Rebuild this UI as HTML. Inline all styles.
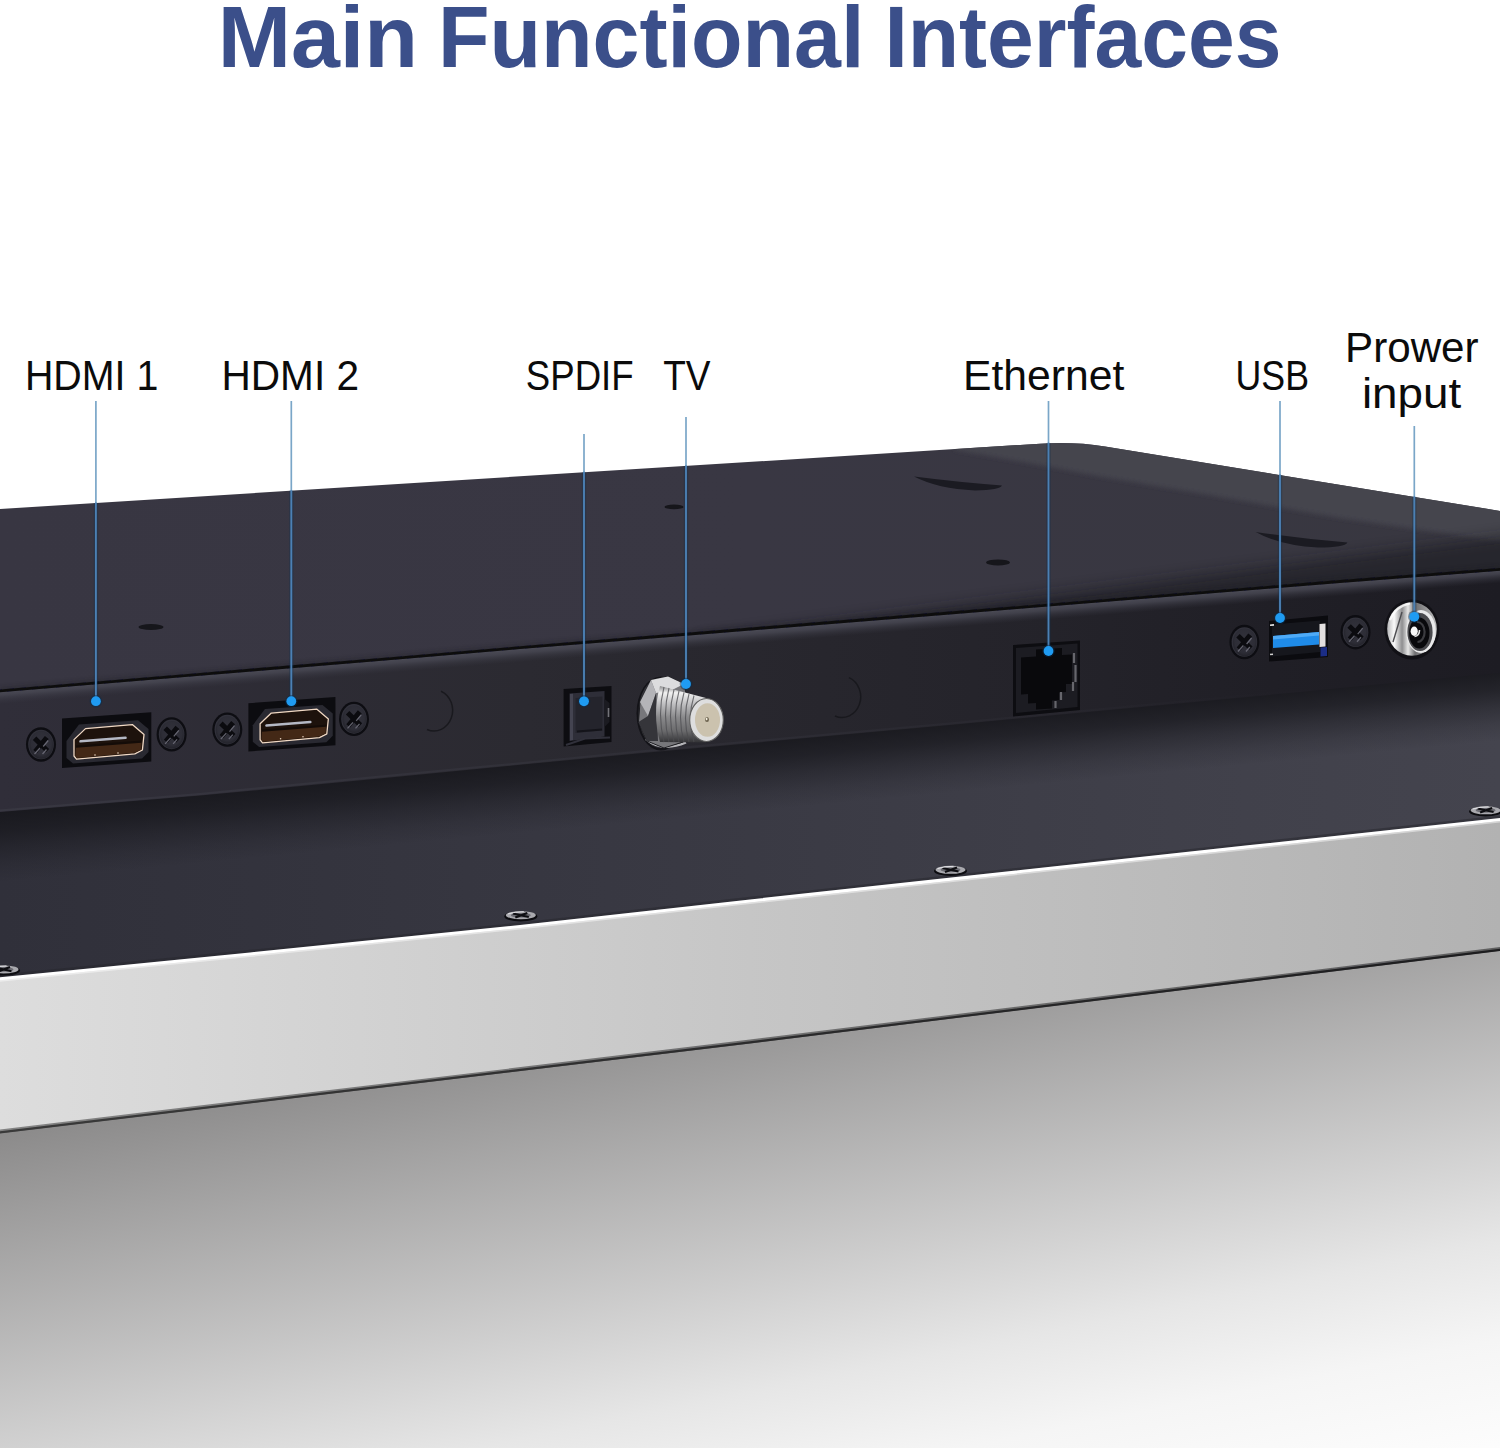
<!DOCTYPE html>
<html lang="en"><head><meta charset="utf-8"><title>Main Functional Interfaces</title>
<style>
html,body{margin:0;padding:0;background:#fff;}
body{width:1500px;height:1448px;overflow:hidden;position:relative;font-family:"Liberation Sans",sans-serif;}
svg{position:absolute;left:0;top:0;display:block;}
text{font-family:"Liberation Sans",sans-serif;}
.lbl{font-size:42.9px;fill:#0b0b0b;}
.ttl{font-size:87.2px;font-weight:bold;fill:#3b4f8a;}
.ln{stroke:#3a8fd6;stroke-width:1.6;fill:none;}
.dot{fill:#1e98ee;}
</style></head><body>
<svg width="1500" height="1448" viewBox="0 0 1500 1448">
<defs>
<linearGradient id="gFloor" gradientUnits="userSpaceOnUse" x1="40" y1="1127.3" x2="162.3" y2="1729.7">
 <stop offset="0" stop-color="#8c8b8b"/><stop offset="0.652" stop-color="#e6e6e6"/><stop offset="0.81" stop-color="#f5f5f5"/><stop offset="1" stop-color="#fdfdfd"/>
</linearGradient>
<linearGradient id="gSilver" gradientUnits="userSpaceOnUse" x1="0" y1="0" x2="1500" y2="0">
 <stop offset="0" stop-color="#dddddd"/><stop offset="0.5" stop-color="#c6c6c6"/><stop offset="1" stop-color="#b2b2b2"/>
</linearGradient>
<linearGradient id="gSilverEdge" gradientUnits="userSpaceOnUse" x1="0" y1="0" x2="1500" y2="0">
 <stop offset="0" stop-color="#3a3a3a"/><stop offset="1" stop-color="#1c1c1e"/>
</linearGradient>
<linearGradient id="gLower" gradientUnits="userSpaceOnUse" x1="0" y1="0" x2="1500" y2="0">
 <stop offset="0" stop-color="#30303a"/><stop offset="0.17" stop-color="#33333d"/><stop offset="0.5" stop-color="#3a3a44"/><stop offset="0.83" stop-color="#41414b"/><stop offset="1" stop-color="#44444e"/>
</linearGradient>
<linearGradient id="gLowerSh" gradientUnits="userSpaceOnUse" x1="750" y1="743" x2="756.400" y2="811">
 <stop offset="0" stop-color="#17171c" stop-opacity="0.9"/><stop offset="0.25" stop-color="#17171c" stop-opacity="0.72"/><stop offset="0.5" stop-color="#17171c" stop-opacity="0.42"/><stop offset="0.75" stop-color="#17171c" stop-opacity="0.17"/><stop offset="1" stop-color="#17171c" stop-opacity="0"/>
</linearGradient>
<linearGradient id="gFace" gradientUnits="userSpaceOnUse" x1="0" y1="0" x2="1500" y2="0">
 <stop offset="0" stop-color="#302e39"/><stop offset="0.35" stop-color="#2b2a31"/><stop offset="0.7" stop-color="#24232a"/><stop offset="0.85" stop-color="#201f26"/><stop offset="1" stop-color="#1d1c23"/>
</linearGradient>
<linearGradient id="gRim" gradientUnits="userSpaceOnUse" x1="0" y1="0" x2="1300" y2="0">
 <stop offset="0" stop-color="#3d3d47" stop-opacity="0.6"/><stop offset="0.6" stop-color="#3a3a44" stop-opacity="0.3"/><stop offset="1" stop-color="#3a3a44" stop-opacity="0"/>
</linearGradient>
<linearGradient id="gHi" gradientUnits="userSpaceOnUse" x1="750" y1="630.5" x2="751.05" y2="643.5">
 <stop offset="0" stop-color="#4c4c57" stop-opacity="0.95"/><stop offset="0.3" stop-color="#484853" stop-opacity="0.8"/><stop offset="0.65" stop-color="#40404b" stop-opacity="0.38"/><stop offset="1" stop-color="#3a3a45" stop-opacity="0"/>
</linearGradient>
<linearGradient id="gTop" gradientUnits="userSpaceOnUse" x1="0" y1="0" x2="1500" y2="0">
 <stop offset="0" stop-color="#383642"/><stop offset="0.5" stop-color="#393743"/><stop offset="1" stop-color="#383740"/>
</linearGradient>
<linearGradient id="gSteel" x1="0" y1="0" x2="0" y2="1">
 <stop offset="0" stop-color="#8c8c8e"/><stop offset="0.12" stop-color="#f2f2f2"/><stop offset="0.3" stop-color="#c4c4c6"/><stop offset="0.55" stop-color="#8a8a8c"/><stop offset="0.8" stop-color="#6a6a6c"/><stop offset="1" stop-color="#333336"/>
</linearGradient>
<linearGradient id="gJack" x1="0" y1="0" x2="1" y2="0">
 <stop offset="0" stop-color="#b8b8ba"/><stop offset="0.14" stop-color="#fafafa"/><stop offset="0.3" stop-color="#8e8e90"/><stop offset="0.42" stop-color="#e6e6e6"/><stop offset="0.56" stop-color="#6e6e70"/><stop offset="1" stop-color="#bcbcbc"/>
</linearGradient>
<radialGradient id="gScrew" cx="0.5" cy="0.45" r="0.6">
 <stop offset="0" stop-color="#33333c"/><stop offset="0.7" stop-color="#2c2c35"/><stop offset="1" stop-color="#1a1a20"/>
</radialGradient>
<filter id="b2" x="-20%" y="-20%" width="140%" height="140%"><feGaussianBlur stdDeviation="0.6"/></filter>
<filter id="b8" x="-10%" y="-100%" width="120%" height="300%"><feGaussianBlur stdDeviation="7"/></filter>
<filter id="b4" x="-10%" y="-100%" width="120%" height="300%"><feGaussianBlur stdDeviation="2.2"/></filter>
<g id="screw">
 <ellipse rx="15" ry="17.200" fill="#0d0d12"/>
 <ellipse rx="12.800" ry="14.800" fill="#42424d" opacity="0.7"/>
 <ellipse cx="0.300" cy="0.400" rx="11.800" ry="13.800" fill="url(#gScrew)" opacity="0.8"/>
 <path d="M-6.400,-6.200 L6.400,6.200 M-5.800,7 L5.800,-7" stroke="#0b0b0f" stroke-width="5"/>
 <path d="M2.200,2 L7.200,-4 M-6.500,9.500 L-1,3.500 M1.500,9.500 L5.500,5" stroke="#6c6c78" stroke-width="1.300" opacity="0.9"/>
</g>
<g id="sscrew">
 <ellipse cx="0" cy="1.2" rx="16.5" ry="5" fill="#0c0c10"/>
 <ellipse rx="15" ry="4" fill="#a9a9ae"/>
 <ellipse rx="10" ry="2.4" fill="#6c6c73"/>
 <path d="M-8,-1.800 L8,1.800 M-5.500,2.300 L6.500,-2.300" stroke="#0e0e12" stroke-width="2.100"/>
 <path d="M-13,-1.200 Q-6,-3.600 3,-3.500" stroke="#e2e2e6" stroke-width="1" fill="none"/>
</g>
<g id="hdmi">
 <polygon points="62,718.5 151.3,712.2 151.3,761.6 62,768" fill="#0c0c10"/>
 <path d="M66.500,741 L79,724.5 L138,720.3 L148.500,729 L148.500,752 L142,758.5 L73,763.5 L66.500,758 Z" fill="#292931"/>
 <path d="M74,739.6 L85.5,728.6 L132.300,724.600 L144,734.6 L142.400,750 L134.800,753.800 L76.500,759.2 L74,756 Z" fill="#1d120c" stroke="#f1d9c4" stroke-width="1.3" stroke-linejoin="round"/>
 <path d="M76,746.5 L141.5,741.5 L141.2,749.5 L134.500,752.700 L77,758 L75.3,755.600 Z" fill="#432816"/>
 <path d="M76,746.6 L141.500,741.6" stroke="#140c08" stroke-width="2.2"/>
 <path d="M80.500,741.3 L125.500,737.800" stroke="#b4b8c4" stroke-width="2.6" stroke-linecap="round"/>
 <circle cx="95" cy="755" r="0.8" fill="#e8d6c4"/><circle cx="118" cy="753" r="0.8" fill="#e8d6c4"/>
</g>
<clipPath id="cTop"><path d="M0,509 L1040,443.7 Q1074.4,441.5 1105,446.5 L1500,510.9 L1500,569.4 L1340,581.6 L1300,584.8 L950,613.1 L900,617.1 L640,638 L520,647.7 L400,657.9 L200,674.4 L0,690.9 Z"/></clipPath>
</defs>

<polygon points="0,1131.7 750,1041.8 1500,949.2 1500,1448 0,1448" fill="url(#gFloor)"/>
<polygon points="0,978.6 250,953.8 520,926.4 750,900.8 1250,846.5 1500,819.4 1500,950.2 750,1042.8 0,1132.7" fill="url(#gSilver)"/>
<polygon points="0,1129.5 750,1039.6 1500,947 1500,950.8 750,1043.4 0,1133.3" fill="url(#gSilverEdge)" opacity="0.55" filter="url(#b2)"/>
<polygon points="0,1131.2 750,1041.3 1500,948.7 1500,950.9 750,1043.5 0,1133.4" fill="url(#gSilverEdge)"/>
<polygon points="0,811 200,794.6 400,775.4 520,763.8 640,752.2 900,728.5 950,724 1300,691 1340,687.1 1500,671.7 1500,819.4 1250,846.5 750,900.8 520,926.4 250,953.8 0,978.6" fill="url(#gLower)"/>
<polygon points="0,811 200,794.6 400,775.4 520,763.8 640,752.2 900,728.5 950,724 1300,691 1340,687.1 1500,671.7 1500,752.7 1340,768.1 1300,772 950,805 900,809.5 640,833.2 520,844.8 400,856.4 200,875.6 0,892" fill="url(#gLowerSh)"/>
<polygon points="0,974.6 250,949.8 520,922.4 750,896.8 1250,842.5 1500,815.4 1500,818 1250,845.1 750,899.4 520,925 250,952.4 0,977.2" fill="#26262c" opacity="0.5"/>
<polygon points="0,977.2 250,952.4 520,925 750,899.4 1250,845.1 1500,818 1500,821.1 1250,848.2 750,902.5 520,928.1 250,955.5 0,980.3" fill="#ffffff"/>
<polygon points="0,980.3 250,955.5 520,928.1 750,902.5 1250,848.2 1500,821.1 1500,822.6 1250,849.7 750,904 520,929.6 250,957 0,981.8" fill="#ffffff" opacity="0.45"/>
<use href="#sscrew" x="3.5" y="969.4"/>
<use href="#sscrew" x="520.8" y="915.2"/>
<use href="#sscrew" x="950.5" y="869.8"/>
<use href="#sscrew" x="1485.6" y="810.3"/>
<path d="M0,509 L1040,443.7 Q1074.4,441.5 1105,446.5 L1500,510.9 L1500,570.4 L1340,582.6 L1300,585.8 L950,614.1 L900,618.1 L640,639 L520,648.7 L400,658.9 L200,675.4 L0,691.9 Z" fill="url(#gTop)"/>
<g clip-path="url(#cTop)">
<path d="M955,445 L1040,439.7 Q1074.4,441.5 1105,442.5 L1510,508.5 L1510,543 L1340,518 L1180,490 L1100,476.5 Q1030,463 955,450 Z" fill="#45444e" filter="url(#b4)"/>
<polygon points="700,639.2 1530,533.1 1530,583.1 700,649.2" fill="#1d1c22" opacity="0.62" filter="url(#b8)"/>
<polygon points="0,687.4 200,670.9 400,654.4 520,644.2 640,634.5 900,613.6 950,609.6 1300,581.3 1340,578.1 1500,565.9 1500,573.4 1340,585.6 1300,588.8 950,617.1 900,621.1 640,642 520,651.7 400,661.9 200,678.4 0,694.9" fill="#1d1c22" opacity="0.35" filter="url(#b4)"/>
</g>
<path d="M914,476.6 Q960,482.5 1002,485.5 Q1000,490 975,490.400 Q938,489 914,476.6 Z" fill="#1b1b22"/>
<path d="M1255.7,532 Q1300,538.5 1347.400,542.5 Q1345,547.5 1318,547.5 Q1280,545.5 1255.7,532 Z" fill="#1b1b22"/>
<ellipse cx="151" cy="627" rx="12.5" ry="3" fill="#16161b"/>
<ellipse cx="674" cy="506.9" rx="9.5" ry="2.3" fill="#16161b"/>
<ellipse cx="998" cy="562.4" rx="12" ry="3" fill="#16161b"/>
<polygon points="0,690.9 200,674.4 400,657.9 520,647.7 640,638 900,617.1 950,613.1 1300,584.8 1340,581.6 1500,569.4 1500,672.7 1340,688.1 1300,692 950,725 900,729.5 640,753.2 520,764.8 400,776.4 200,795.6 0,812" fill="url(#gFace)"/>
<polygon points="0,691.9 200,675.4 400,658.9 520,648.7 640,639 900,618.1 950,614.1 1300,585.8 1340,582.6 1500,570.4 1500,583.9 1340,596.1 1300,599.3 950,627.6 900,631.6 640,652.5 520,662.2 400,672.4 200,688.9 0,705.4" fill="url(#gHi)"/>
<polygon points="0,689.4 200,672.9 400,656.4 520,646.2 640,636.5 900,615.6 950,611.6 1300,583.3 1340,580.1 1500,567.9 1500,570.8 1340,583 1300,586.2 950,614.5 900,618.5 640,639.4 520,649.1 400,659.3 200,675.8 0,692.3" fill="#0b0b10" filter="url(#b2)"/>
<polygon points="0,809.4 200,793 480,766.1 640,750.6 950,722.4 1300,689.4 1300,691.4 950,724.4 640,752.6 480,768.1 200,795 0,811.4" fill="url(#gRim)"/>
<path d="M441,691.2 A18.500 20.500 0 1 1 427,729.5" stroke="#17171c" stroke-width="1.5" fill="none" opacity="0.9"/>
<path d="M849,677.6 A18.500 20.500 0 1 1 835,716" stroke="#17171c" stroke-width="1.5" fill="none" opacity="0.9"/>
<use href="#screw" x="41" y="744.5"/><use href="#screw" x="171.6" y="734.4"/>
<use href="#hdmi"/>
<use href="#screw" x="227.3" y="729.6"/><use href="#screw" x="354" y="718.9"/>
<g transform="translate(248.400,703.200) scale(0.975) translate(-62,-718.500)"><use href="#hdmi"/></g>
<g>
 <polygon points="563.600,689 611.500,686 611.500,742 563.600,746.500" fill="#0d0d11"/>
 <polygon points="569.5,693.500 604.500,691 604.500,736.500 569.5,741" fill="#2e2e38"/>
 <polygon points="570,694 573,693.800 573,740 570,740.500" fill="#4a4a58" opacity="0.8"/>
 <polygon points="575.500,698 602.500,696.500 602.500,730.500 575.500,733" fill="#24242c"/>
 <path d="M577,731.500 L602,729.500" stroke="#14141a" stroke-width="2.200"/>
 <path d="M604.500,699 L609.500,703 L609.500,722 L604.500,727 Z" fill="#1b1b21"/>
 <path d="M608.500,708 L608.500,717" stroke="#8a8a90" stroke-width="1.600" opacity="0.8"/>
 <path d="M566,745 L585,738.5 L610,737.500" stroke="#30303a" stroke-width="2" fill="none"/>
</g>
<g>
 <ellipse cx="661" cy="713.5" rx="24.500" ry="37" fill="#0c0c10" opacity="0.75"/>
 <ellipse cx="660" cy="713" rx="21.500" ry="35" fill="#34343a"/>
 <path d="M646,739 Q662,752.500 686,742.5" stroke="#b4b4b8" stroke-width="2.400" fill="none"/>
 <path d="M640,702 L651,680 L668,676.5 L684,684 L690,712 L683,742 L664,748 L647,741 L638.5,722 Z" fill="#77777b" stroke="#1e1e22" stroke-width="1"/>
 <path d="M651,680 L668,676.5 L684,684 L672,690 L656,693 Z" fill="#dcdcde"/>
 <path d="M640,702 L651,680 L656,693 L648,716 Z" fill="#b4b4b8"/>
 <path d="M648,716 L656,693 L658,741 L647,741 L638.5,722 Z" fill="#35353a"/>
 <path d="M660,686 L706,698 L706,742.5 L660,742 Q652,714 660,686 Z" fill="url(#gSteel)"/>
 <g stroke="#4c4c50" stroke-width="1.100" fill="none" opacity="0.75">
  <path d="M664,687 Q657,714 664,742"/><path d="M669,688 Q662,715 669,742"/><path d="M674,689.5 Q667,716 674,742"/><path d="M679,691 Q672,716 679,742"/><path d="M684,692.5 Q677,717 684,742"/><path d="M689,694 Q682,718 689,742"/><path d="M694,695.500 Q687,718 694,742"/>
 </g>
 <ellipse cx="706.5" cy="720" rx="16.800" ry="21.500" fill="#dedede" stroke="#5e5e5e" stroke-width="1.100"/>
 <ellipse cx="707.5" cy="720" rx="12.5" ry="16.800" fill="#cbc2ae"/>
 <ellipse cx="707" cy="719.5" rx="2" ry="2.6" fill="#6e6450"/>
 <ellipse cx="706.6" cy="719" rx="0.9" ry="1.2" fill="#f5f0e0"/>
</g>
<g>
 <polygon points="1013,645 1080,640.5 1080,710 1013,716.5" fill="#0d0d11"/>
 <polygon points="1016,648 1077.5,643.5 1077.5,707 1016,713" fill="#1c1c22"/>
 <path d="M1021,657.500 L1036,656.500 L1036,649.500 L1062,648 L1062,655 L1072,654.500 L1072,684 L1066,684 L1066,692 L1059,692.5 L1059,700 L1052,700.5 L1052,708.500 L1036,709.500 L1036,703 L1028,703.5 L1028,694 L1021,694.5 Z" fill="#09090c"/>
 <g stroke="#66666c" stroke-width="2.2"><path d="M1074,653 L1074,663"/><path d="M1075.5,665 L1075.5,682"/><path d="M1073,682 L1073,691"/><path d="M1061,692 L1061,700"/><path d="M1055.500,701 L1055.5,708"/></g>
</g>
<g>
 <use href="#screw" x="1244.400" y="642"/><use href="#screw" x="1355.5" y="632.200"/>
 <polygon points="1269,621 1328,615.5 1328,657 1269,661.500" fill="#0b0b0f"/>
 <polygon points="1272,624.5 1320,620.5 1320,652 1272,656.500" fill="#16171d"/>
 <polygon points="1273,636 1319,632 1319,644.500 1273,648" fill="#1f8be8"/>
 <polygon points="1273,636 1319,632 1319,635.5 1273,639.5" fill="#4eaaf6"/>
 <polygon points="1319.500,624 1325.500,623.5 1325.500,646.500 1319.500,647" fill="#e2dfdf"/>
 <polygon points="1320.500,647.500 1327,647 1327,656 1320.500,656.500" fill="#1b2d86"/>
 <path d="M1270,625.200 L1274,624.900" stroke="#e8e8e8" stroke-width="1.6"/><path d="M1270,654.500 L1273,654.200" stroke="#d0d0d0" stroke-width="1.6"/>
</g>
<g>
 <ellipse cx="1412" cy="629.5" rx="27.500" ry="30" fill="#0b0b10" opacity="0.7"/>
 <ellipse cx="1412" cy="629" rx="24.800" ry="26.800" fill="url(#gJack)"/>
 <path d="M1393,642 L1402,612" stroke="#4c4c50" stroke-width="1.4" fill="none"/>
 <path d="M1390,620 Q1396,606 1410,603.500" stroke="#ffffff" stroke-width="2" fill="none" opacity="0.8"/>
 <ellipse cx="1421" cy="631.500" rx="14.800" ry="21.500" fill="#e9e9ea"/>
 <ellipse cx="1420" cy="632" rx="12.600" ry="19" fill="#4a4a4e"/>
 <ellipse cx="1419.300" cy="633" rx="10.200" ry="15.600" fill="#09090c"/>
 <path d="M1417,622 A7 9.500 0 0 1 1417.500,642" stroke="#3c3c40" stroke-width="2.200" fill="none"/>
 <ellipse cx="1414.200" cy="631.3" rx="3.600" ry="4.700" fill="#f8f8f8"/>
 <path d="M1414.500,636.500 Q1419.500,636 1419.500,630" stroke="#e0e0e0" stroke-width="1.600" fill="none"/>
</g>
<path d="M95.9,401 V503" stroke="#7aa6c8" stroke-width="1.7" fill="none"/>
<path d="M95.9,503 V701.2" stroke="#15324e" stroke-width="4.4" fill="none" opacity="0.35"/>
<path d="M95.9,502.5 V701.2" stroke="#4b80b4" stroke-width="1.9" fill="none"/>
<circle cx="95.9" cy="701.2" r="6.3" fill="#0c2c4c" opacity="0.45"/><circle cx="95.9" cy="701.2" r="4.9" fill="#1f9bf2"/>
<path d="M291.3,401 V490.7" stroke="#7aa6c8" stroke-width="1.7" fill="none"/>
<path d="M291.3,490.7 V701.2" stroke="#15324e" stroke-width="4.4" fill="none" opacity="0.35"/>
<path d="M291.3,490.2 V701.2" stroke="#4b80b4" stroke-width="1.9" fill="none"/>
<circle cx="291.3" cy="701.2" r="6.3" fill="#0c2c4c" opacity="0.45"/><circle cx="291.3" cy="701.2" r="4.9" fill="#1f9bf2"/>
<path d="M584,434 V472.3" stroke="#7aa6c8" stroke-width="1.7" fill="none"/>
<path d="M584,472.3 V701.3" stroke="#15324e" stroke-width="4.4" fill="none" opacity="0.35"/>
<path d="M584,471.8 V701.3" stroke="#4b80b4" stroke-width="1.9" fill="none"/>
<circle cx="584" cy="701.3" r="6.3" fill="#0c2c4c" opacity="0.45"/><circle cx="584" cy="701.3" r="4.9" fill="#1f9bf2"/>
<path d="M686,417 V465.9" stroke="#7aa6c8" stroke-width="1.7" fill="none"/>
<path d="M686,465.9 V684" stroke="#15324e" stroke-width="4.4" fill="none" opacity="0.35"/>
<path d="M686,465.4 V684" stroke="#4b80b4" stroke-width="1.9" fill="none"/>
<circle cx="686" cy="684" r="6.3" fill="#0c2c4c" opacity="0.45"/><circle cx="686" cy="684" r="4.9" fill="#1f9bf2"/>
<path d="M1048.5,401 V443.2" stroke="#7aa6c8" stroke-width="1.7" fill="none"/>
<path d="M1048.5,443.2 V651" stroke="#15324e" stroke-width="4.4" fill="none" opacity="0.35"/>
<path d="M1048.5,442.7 V651" stroke="#4b80b4" stroke-width="1.9" fill="none"/>
<circle cx="1048.5" cy="651" r="6.3" fill="#0c2c4c" opacity="0.45"/><circle cx="1048.5" cy="651" r="4.9" fill="#1f9bf2"/>
<path d="M1280,401 V475" stroke="#7aa6c8" stroke-width="1.7" fill="none"/>
<path d="M1280,475 V618" stroke="#15324e" stroke-width="4.4" fill="none" opacity="0.35"/>
<path d="M1280,474.5 V618" stroke="#4b80b4" stroke-width="1.9" fill="none"/>
<circle cx="1280" cy="618" r="6.3" fill="#0c2c4c" opacity="0.45"/><circle cx="1280" cy="618" r="4.9" fill="#1f9bf2"/>
<path d="M1414.3,426 V496.9" stroke="#7aa6c8" stroke-width="1.7" fill="none"/>
<path d="M1414.3,496.9 V616.8" stroke="#15324e" stroke-width="4.4" fill="none" opacity="0.35"/>
<path d="M1414.3,496.4 V616.8" stroke="#4b80b4" stroke-width="1.9" fill="none"/>
<circle cx="1414.3" cy="616.8" r="6.3" fill="#0c2c4c" opacity="0.45"/><circle cx="1414.3" cy="616.8" r="4.9" fill="#1f9bf2"/>
<text class="ttl"><tspan x="217.7" y="66.6" textLength="200.3" lengthAdjust="spacingAndGlyphs">Main</tspan> <tspan x="437.9" y="66.6" textLength="426.5" lengthAdjust="spacingAndGlyphs">Functional</tspan> <tspan x="884.4" y="66.6" textLength="397.1" lengthAdjust="spacingAndGlyphs">Interfaces</tspan></text>
<text class="lbl"><tspan x="24.9" y="390.1" textLength="133.4" lengthAdjust="spacingAndGlyphs">HDMI 1</tspan></text>
<text class="lbl"><tspan x="221.5" y="390.1" textLength="137.5" lengthAdjust="spacingAndGlyphs">HDMI 2</tspan></text>
<text class="lbl"><tspan x="525.8" y="390.1" textLength="107.8" lengthAdjust="spacingAndGlyphs">SPDIF</tspan></text>
<text class="lbl"><tspan x="663.2" y="390.1" textLength="47.3" lengthAdjust="spacingAndGlyphs">TV</tspan></text>
<text class="lbl"><tspan x="963" y="390.1" textLength="161.3" lengthAdjust="spacingAndGlyphs">Ethernet</tspan></text>
<text class="lbl"><tspan x="1235.5" y="390.1" textLength="73.5" lengthAdjust="spacingAndGlyphs">USB</tspan></text>
<text class="lbl"><tspan x="1345" y="361.5" textLength="133.6" lengthAdjust="spacingAndGlyphs">Prower</tspan> <tspan x="1361.9" y="408" textLength="99.3" lengthAdjust="spacingAndGlyphs">input</tspan></text>
</svg>
</body></html>
